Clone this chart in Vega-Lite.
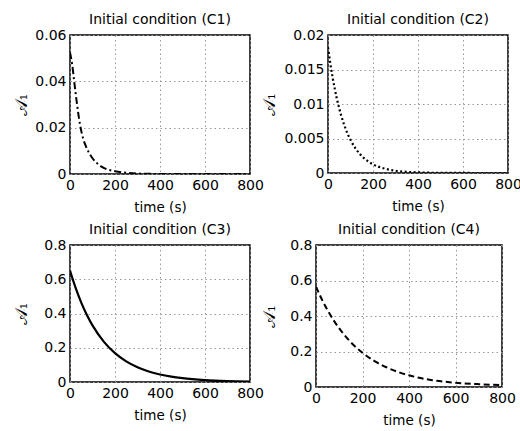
{
  "$schema": "https://vega.github.io/schema/vega-lite/v6.json",
  "background": "white",
  "autosize": {"type": "pad"},
  "padding": {"left": 11, "top": 11, "right": 2, "bottom": 2},
  "data": {"values": [
    {"c":"C1","t":0,"a":0.0525},{"c":"C1","t":10,"a":0.047},{"c":"C1","t":20,"a":0.0389},{"c":"C1","t":30,"a":0.031},{"c":"C1","t":40,"a":0.024},{"c":"C1","t":50,"a":0.0186},{"c":"C1","t":60,"a":0.0148},{"c":"C1","t":70,"a":0.0121},{"c":"C1","t":80,"a":0.01},{"c":"C1","t":100,"a":0.0068},{"c":"C1","t":120,"a":0.0047},{"c":"C1","t":140,"a":0.0032},{"c":"C1","t":160,"a":0.0022},{"c":"C1","t":180,"a":0.0016},{"c":"C1","t":200,"a":0.0012},{"c":"C1","t":250,"a":0.0005},{"c":"C1","t":300,"a":0.0002},{"c":"C1","t":400,"a":0.00003},{"c":"C1","t":500,"a":0.000005},{"c":"C1","t":600,"a":0},{"c":"C1","t":700,"a":0},{"c":"C1","t":800,"a":0},
    {"c":"C2","t":0,"a":0.0182},{"c":"C2","t":10,"a":0.01593},{"c":"C2","t":20,"a":0.01394},{"c":"C2","t":30,"a":0.0122},{"c":"C2","t":40,"a":0.01068},{"c":"C2","t":50,"a":0.00934},{"c":"C2","t":60,"a":0.00818},{"c":"C2","t":80,"a":0.00626},{"c":"C2","t":100,"a":0.0048},{"c":"C2","t":120,"a":0.00367},{"c":"C2","t":140,"a":0.00281},{"c":"C2","t":160,"a":0.00216},{"c":"C2","t":180,"a":0.00165},{"c":"C2","t":200,"a":0.00126},{"c":"C2","t":250,"a":0.00065},{"c":"C2","t":300,"a":0.00033},{"c":"C2","t":350,"a":0.00017},{"c":"C2","t":400,"a":0.00009},{"c":"C2","t":500,"a":0.00002},{"c":"C2","t":600,"a":0.000006},{"c":"C2","t":700,"a":0.0000016},{"c":"C2","t":800,"a":0.0000004},
    {"c":"C3","t":0,"a":0.65},{"c":"C3","t":25,"a":0.549},{"c":"C3","t":50,"a":0.4637},{"c":"C3","t":75,"a":0.3916},{"c":"C3","t":100,"a":0.3307},{"c":"C3","t":150,"a":0.236},{"c":"C3","t":200,"a":0.1683},{"c":"C3","t":250,"a":0.1201},{"c":"C3","t":300,"a":0.0856},{"c":"C3","t":350,"a":0.0611},{"c":"C3","t":400,"a":0.0436},{"c":"C3","t":450,"a":0.0311},{"c":"C3","t":500,"a":0.0222},{"c":"C3","t":600,"a":0.0113},{"c":"C3","t":700,"a":0.0057},{"c":"C3","t":800,"a":0.0029},
    {"c":"C4","t":0,"a":0.565},{"c":"C4","t":25,"a":0.494},{"c":"C4","t":50,"a":0.432},{"c":"C4","t":75,"a":0.3775},{"c":"C4","t":100,"a":0.33},{"c":"C4","t":150,"a":0.252},{"c":"C4","t":200,"a":0.1928},{"c":"C4","t":250,"a":0.1474},{"c":"C4","t":300,"a":0.1126},{"c":"C4","t":350,"a":0.0861},{"c":"C4","t":400,"a":0.0658},{"c":"C4","t":450,"a":0.0503},{"c":"C4","t":500,"a":0.0384},{"c":"C4","t":600,"a":0.024},{"c":"C4","t":700,"a":0.016},{"c":"C4","t":800,"a":0.011}
  ]},
  "columns": 2,
  "align": "none",
  "bounds": "full",
  "spacing": {"row": 6, "column": -6},
  "concat": [
    {
      "width": 180, "height": 139,
      "title": {"text": "Initial condition (C1)"},
      "transform": [{"filter": "datum.c === 'C1'"}],
      "mark": {"type": "line", "interpolate": "monotone", "strokeWidth": 2, "strokeDash": [7, 3, 2, 3], "color": "black", "clip": true},
      "encoding": {
        "x": {"field": "t", "type": "quantitative", "scale": {"domain": [0, 800], "nice": false}, "axis": {"title": "time (s)", "values": [0, 200, 400, 600, 800]}},
        "y": {"field": "a", "type": "quantitative", "scale": {"domain": [0, 0.06], "nice": false}, "axis": {"title": "𝒜₁", "values": [0, 0.02, 0.04, 0.06], "format": "~g", "minExtent": 37, "maxExtent": 37}}
      }
    },
    {
      "width": 180, "height": 138,
      "title": {"text": "Initial condition (C2)"},
      "transform": [{"filter": "datum.c === 'C2'"}],
      "mark": {"type": "line", "interpolate": "monotone", "strokeWidth": 2.2, "strokeDash": [2, 2.5], "color": "black", "clip": true},
      "encoding": {
        "x": {"field": "t", "type": "quantitative", "scale": {"domain": [0, 800], "nice": false}, "axis": {"title": "time (s)", "values": [0, 200, 400, 600, 800]}},
        "y": {"field": "a", "type": "quantitative", "scale": {"domain": [0, 0.02], "nice": false}, "axis": {"title": "𝒜₁", "values": [0, 0.005, 0.01, 0.015, 0.02], "format": "~g", "minExtent": 47, "maxExtent": 47}}
      }
    },
    {
      "width": 180, "height": 137,
      "title": {"text": "Initial condition (C3)"},
      "transform": [{"filter": "datum.c === 'C3'"}],
      "mark": {"type": "line", "interpolate": "monotone", "strokeWidth": 2.2, "color": "black", "clip": true},
      "encoding": {
        "x": {"field": "t", "type": "quantitative", "scale": {"domain": [0, 800], "nice": false}, "axis": {"title": "time (s)", "values": [0, 200, 400, 600, 800]}},
        "y": {"field": "a", "type": "quantitative", "scale": {"domain": [0, 0.8], "nice": false}, "axis": {"title": "𝒜₁", "values": [0, 0.2, 0.4, 0.6, 0.8], "format": "~g", "minExtent": 37, "maxExtent": 37}}
      }
    },
    {
      "width": 186, "height": 142,
      "title": {"text": "Initial condition (C4)"},
      "transform": [{"filter": "datum.c === 'C4'"}],
      "mark": {"type": "line", "interpolate": "monotone", "strokeWidth": 2, "strokeDash": [6, 3.5], "color": "black", "clip": true},
      "encoding": {
        "x": {"field": "t", "type": "quantitative", "scale": {"domain": [0, 800], "nice": false}, "axis": {"title": "time (s)", "values": [0, 200, 400, 600, 800]}},
        "y": {"field": "a", "type": "quantitative", "scale": {"domain": [0, 0.8], "nice": false}, "axis": {"title": "𝒜₁", "values": [0, 0.2, 0.4, 0.6, 0.8], "format": "~g", "minExtent": 35, "maxExtent": 35}}
      }
    }
  ],
  "config": {
    "font": "DejaVu Sans",
    "view": {"stroke": "black", "strokeWidth": 1.5},
    "axis": {
      "grid": true, "gridColor": "#999999", "gridDash": [1.5, 3], "gridWidth": 1,
      "domain": false, "ticks": false,
      "labelFont": "DejaVu Sans", "labelFontSize": 14, "labelColor": "black",
      "labelFlush": false, "labelOverlap": false,
      "titleFont": "DejaVu Sans", "titleFontSize": 13.5, "titleFontWeight": "normal", "titleColor": "black",
      "titlePadding": 3
    },
    "axisX": {"labelPadding": 4, "titlePadding": 8},
    "axisY": {"labelPadding": 4, "titleFontSize": 17, "titleFont": "DejaVu Serif"},
    "title": {"font": "DejaVu Sans", "fontSize": 14, "fontWeight": "normal", "color": "black", "baseline": "alphabetic", "offset": 1.5}
  }
}
